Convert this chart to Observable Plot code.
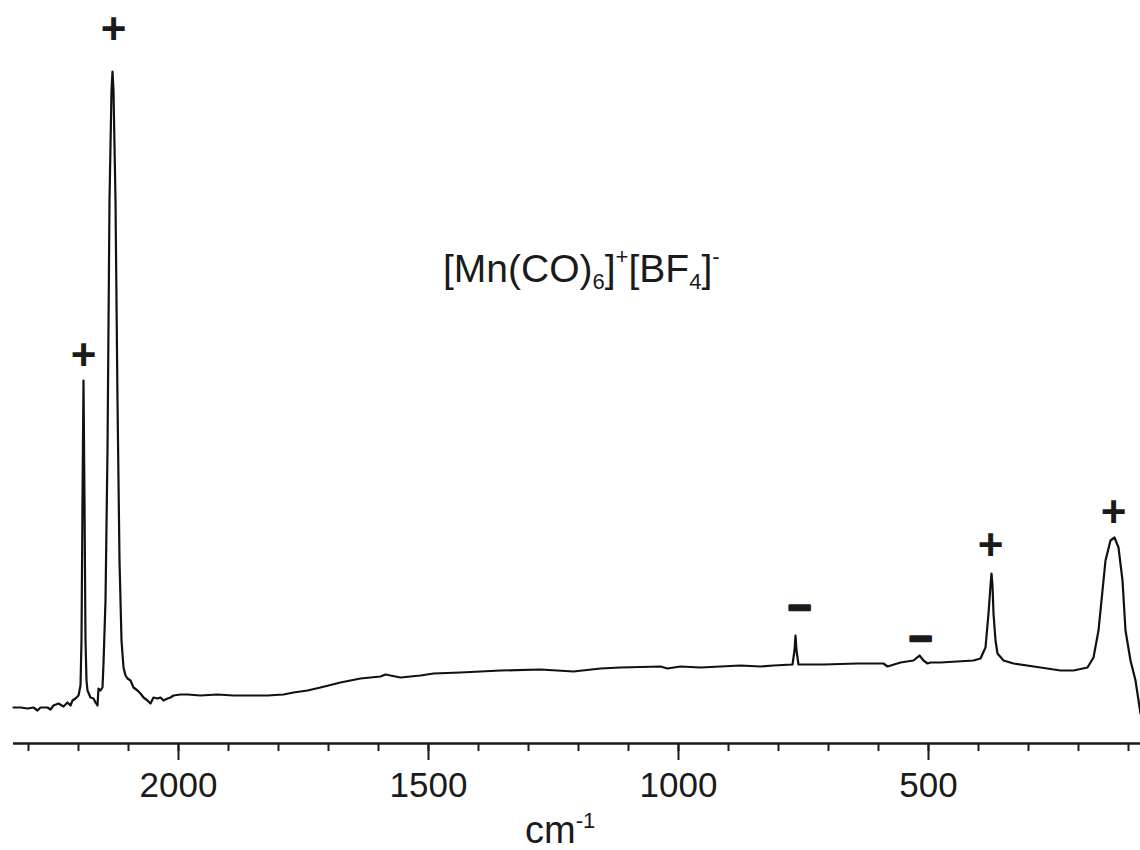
<!DOCTYPE html>
<html>
<head>
<meta charset="utf-8">
<script src="https://cdn.jsdelivr.net/npm/d3@7"></script>
<script src="https://cdn.jsdelivr.net/npm/@observablehq/plot@0.6"></script>
<style>
  html, body { margin: 0; padding: 0; background: #fff; }
  #chart { position: relative; width: 1140px; height: 850px; }
</style>
</head>
<body>
<div id="chart"></div>
<script>
// Raman spectrum of [Mn(CO)6]+[BF4]- (wavenumber in cm-1, intensity in arbitrary units)
const wavenumber = [
  2330, 2316, 2302, 2290, 2282, 2276, 2262, 2256, 2250, 2240, 2230, 2222, 2216, 2212, 2206, 2200,
  2196, 2194, 2192, 2190, 2188, 2186, 2184, 2182, 2176, 2170, 2166, 2162, 2160, 2156, 2152,
  2150, 2146, 2142, 2138, 2134, 2132, 2130, 2126, 2122, 2118, 2114, 2110, 2106, 2102, 2096,
  2090, 2082, 2076, 2070, 2062, 2056, 2050, 2042, 2036, 2030, 2022, 2016, 2010, 1996, 1982,
  1956, 1922, 1890, 1856, 1822, 1790, 1770, 1742, 1716, 1676, 1636, 1596, 1586, 1556, 1516,
  1490, 1436, 1356, 1276, 1210, 1156, 1116, 1036, 1022, 996, 956, 876, 836, 810, 772, 768,
  766, 764, 760, 710, 642, 590, 582, 556, 530, 518, 510, 502, 496, 476, 410, 396, 386, 380,
  376, 374, 372, 370, 366, 362, 350, 330, 276, 236, 210, 182, 170, 160, 152, 146, 136, 128,
  120, 112, 106, 96, 86, 76
];
const intensity = [
  36, 36, 35, 36, 33, 36, 36, 34, 38, 40, 37, 41, 38, 43, 45, 48,
  58, 103, 243, 363, 243, 103, 63, 53, 46, 45, 41, 38, 55, 53, 56,
  80, 143, 293, 543, 653, 672, 653, 543, 343, 183, 103, 76, 68, 65, 63,
  56, 53, 50, 46, 43, 40, 46, 45, 46, 43, 45, 46, 48, 49, 49,
  48, 49, 48, 48, 48, 49, 51, 53, 56, 61, 65, 67, 69, 66, 68,
  70, 71, 73, 74, 72, 75, 76, 77, 75, 77, 76, 78, 77, 78, 79, 93,
  108, 93, 79, 79, 80, 80, 77, 81, 83, 88, 83, 80, 81, 81, 83, 85, 96, 130,
  158, 170, 158, 130, 103, 90, 83, 80, 76, 73, 73, 76, 86, 113, 153, 183, 203, 206,
  196, 163, 113, 83, 63, 30
];

// band markers
const markerText = ["+", "+", "+", "+", "\u2212", "\u2212"];
const markerWavenumber = [2130, 2190, 376, 130, 758, 516];
const markerIntensity = [714, 388, 198, 231, 135, 104];

// axis ticks
const minorTicks = d3.range(2300, 0, -100);
const majorTicks = [2000, 1500, 1000, 500];

const spectrum = wavenumber.map((w, i) => ({w, v: intensity[i]}));
const markers = markerText.map((t, i) => ({t, w: markerWavenumber[i], v: markerIntensity[i]}));

const font = "'Liberation Sans', Arial, Helvetica, sans-serif";

const plot = Plot.plot({
  width: 1140,
  height: 850,
  marginLeft: 13,
  marginRight: 0,
  marginTop: 63,
  marginBottom: 107,
  style: {fontFamily: font, fontSize: "35px", color: "#1a1a1a", background: "#fff", overflow: "visible"},
  x: {domain: [2330, 76], axis: null},
  y: {domain: [0, 680], axis: null},
  marks: [
    Plot.ruleY([0], {stroke: "#1a1a1a", strokeWidth: 2.5}),
    Plot.axisX(minorTicks, {tickSize: 8, tickFormat: () => "", label: null, strokeWidth: 2, stroke: "#1a1a1a"}),
    Plot.axisX(majorTicks, {tickSize: 17, tickPadding: 12, label: null, strokeWidth: 2, stroke: "#1a1a1a", fill: "#1a1a1a", fontSize: 35, tickFormat: d => String(d)}),
    Plot.line(spectrum, {x: "w", y: "v", stroke: "#111", strokeWidth: 2.2, strokeLinejoin: "round"}),
    Plot.text(markers.filter(d => d.t === "+"), {x: "w", y: "v", text: "t", fontSize: 44, fontWeight: "bold", fill: "#1a1a1a"}),
    Plot.text(markers.filter(d => d.t !== "+"), {x: "w", y: "v", text: "t", fontSize: 40, fontWeight: "bold", fill: "#1a1a1a", stroke: "#1a1a1a", strokeWidth: 2.5})
  ]
});

document.getElementById("chart").appendChild(plot);

const svg = d3.select(plot);
// title with sub/superscripts
const title = svg.append("text")
  .attr("x", 443).attr("y", 282).attr("text-anchor", "start")
  .attr("font-family", font).attr("font-size", 39).attr("fill", "#1a1a1a");
title.append("tspan").text("[Mn(CO)");
title.append("tspan").attr("font-size", 22).attr("dy", 7).text("6");
title.append("tspan").attr("dy", -7).text("]");
title.append("tspan").attr("font-size", 22).attr("dy", -18).text("+");
title.append("tspan").attr("dy", 18).text("[BF");
title.append("tspan").attr("font-size", 22).attr("dy", 7).text("4");
title.append("tspan").attr("dy", -7).text("]");
title.append("tspan").attr("font-size", 22).attr("dy", -18).text("-");

// axis label cm^-1
const xl = svg.append("text")
  .attr("x", 525).attr("y", 843).attr("text-anchor", "start")
  .attr("font-family", font).attr("font-size", 38).attr("fill", "#1a1a1a");
xl.append("tspan").text("cm");
xl.append("tspan").attr("font-size", 22).attr("dy", -15).text("-1");
</script>
</body>
</html>
